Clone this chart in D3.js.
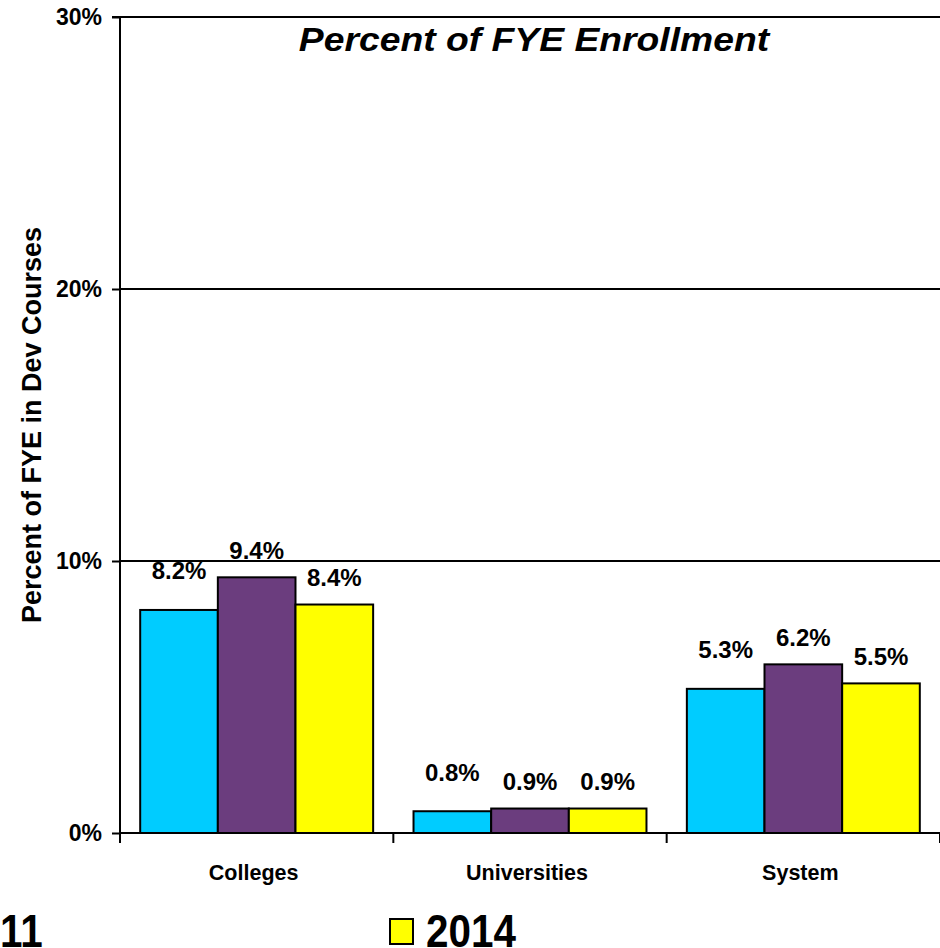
<!DOCTYPE html>
<html><head><meta charset="utf-8">
<script src="https://cdn.jsdelivr.net/npm/d3@7"></script>
<style>
html,body{margin:0;padding:0;background:#fff;overflow:hidden}
svg{display:block}
text{font-family:Arial,"Liberation Sans",sans-serif;font-weight:bold;fill:#000}
</style></head>
<body>
<svg id="c" width="940" height="948"></svg>
<script>
const categories = ["Colleges","Universities","System"];
const seriesNames = ["2011","2012","2014"];
const values2011 = [8.2, 0.8, 5.3];
const values2012 = [9.4, 0.9, 6.2];
const values2014 = [8.4, 0.9, 5.5];
const yTicks = [0,10,20,30];
const colors = ["#00CCFF","#6B3D7E","#FFFF00"];
const labelOffsets = [30.5, 18.5, 18.5];
const legendShown = ["2011","2014"];

(function(){
const series = [values2011, values2012, values2014];
const svg = d3.select("#c");
const pLeft = 120, pRight = 940, pTop = 17, pBottom = 833;
const FONT = "Arial,'Liberation Sans',sans-serif";

const y = d3.scaleLinear().domain([0,30]).range([pBottom, pTop]);
const x = d3.scaleBand().domain(categories).range([pLeft, pRight]).paddingInner(0).paddingOuter(0);
const xi = d3.scaleBand().domain(d3.range(series.length)).range([0, x.bandwidth()]).paddingOuter(0.26).paddingInner(0);

// gridlines
svg.append("g").selectAll("line").data(yTicks.filter(d=>d>0)).join("line")
  .attr("x1", pLeft).attr("x2", pRight).attr("y1", d=>y(d)).attr("y2", d=>y(d))
  .attr("stroke","#000").attr("stroke-width",2);

// y axis
const yAxis = d3.axisLeft(y).tickValues(yTicks).tickFormat(d=>d+"%").tickSize(8).tickPadding(10);
const gy = svg.append("g").attr("transform",`translate(${pLeft},0)`).call(yAxis)
  .attr("font-size",23).attr("font-family",FONT).attr("font-weight","bold");
gy.select(".domain").attr("stroke","#000").attr("stroke-width",2).attr("d",`M-8,${pTop}H0V${pBottom}`);
gy.selectAll(".tick line").attr("stroke","#000").attr("stroke-width",2);
gy.selectAll(".tick text").style("font-size","23px").attr("fill","#000");

// bars
categories.forEach((c,ci)=>{
  series.forEach((s,si)=>{
    svg.append("rect")
      .attr("x", x(c)+xi(si)).attr("y", y(s[ci]))
      .attr("width", xi.bandwidth()).attr("height", pBottom - y(s[ci]))
      .attr("fill", colors[si]).attr("stroke","#000").attr("stroke-width",2);
  });
});
// value labels
categories.forEach((c,ci)=>{
  series.forEach((s,si)=>{
    svg.append("text")
      .attr("x", x(c)+xi(si)+xi.bandwidth()/2).attr("y", y(s[ci]) - labelOffsets[si])
      .attr("text-anchor","middle")
      .style("font-size","24px").text(s[ci].toFixed(1)+"%");
  });
});

// x axis
const gx = svg.append("g").attr("transform",`translate(0,${pBottom})`);
gx.append("line").attr("x1",pLeft).attr("x2",pRight).attr("stroke","#000").attr("stroke-width",2);
gx.selectAll("line.t").data(categories.map(c=>x(c)).concat([pRight])).join("line").attr("class","t")
  .attr("x1",d=>d).attr("x2",d=>d).attr("y1",0).attr("y2",10).attr("stroke","#000").attr("stroke-width",2);
gx.selectAll("text.c").data(categories).join("text").attr("class","c")
  .attr("x",d=>x(d)+x.bandwidth()/2 - 3).attr("y",47).attr("text-anchor","middle")
  .style("font-size","21.5px").text(d=>d);

// title
svg.append("text").attr("transform","translate(534,51) scale(1.13,1)").attr("text-anchor","middle")
  .style("font-size","33px").style("font-style","italic").text("Percent of FYE Enrollment");

// y label
svg.append("text").attr("transform","translate(41,425) rotate(-90)").attr("text-anchor","middle")
  .style("font-size","27px").text("Percent of FYE in Dev Courses");

// legend (only the part visible in the frame)
const legendPos = {"2011":[-81,947],"2014":[390,947]};
const lg = svg.append("g");
legendShown.forEach(n=>{
  const i = seriesNames.indexOf(n);
  const [lx,ly] = legendPos[n];
  lg.append("rect").attr("x",lx).attr("y",ly-28).attr("width",23).attr("height",25)
    .attr("fill",colors[i]).attr("stroke","#000").attr("stroke-width",2);
  lg.append("text").attr("transform",`translate(${lx+36},${ly}) scale(0.86,1)`)
    .style("font-size","47px").text(n);
});
})();
</script>
</body></html>
